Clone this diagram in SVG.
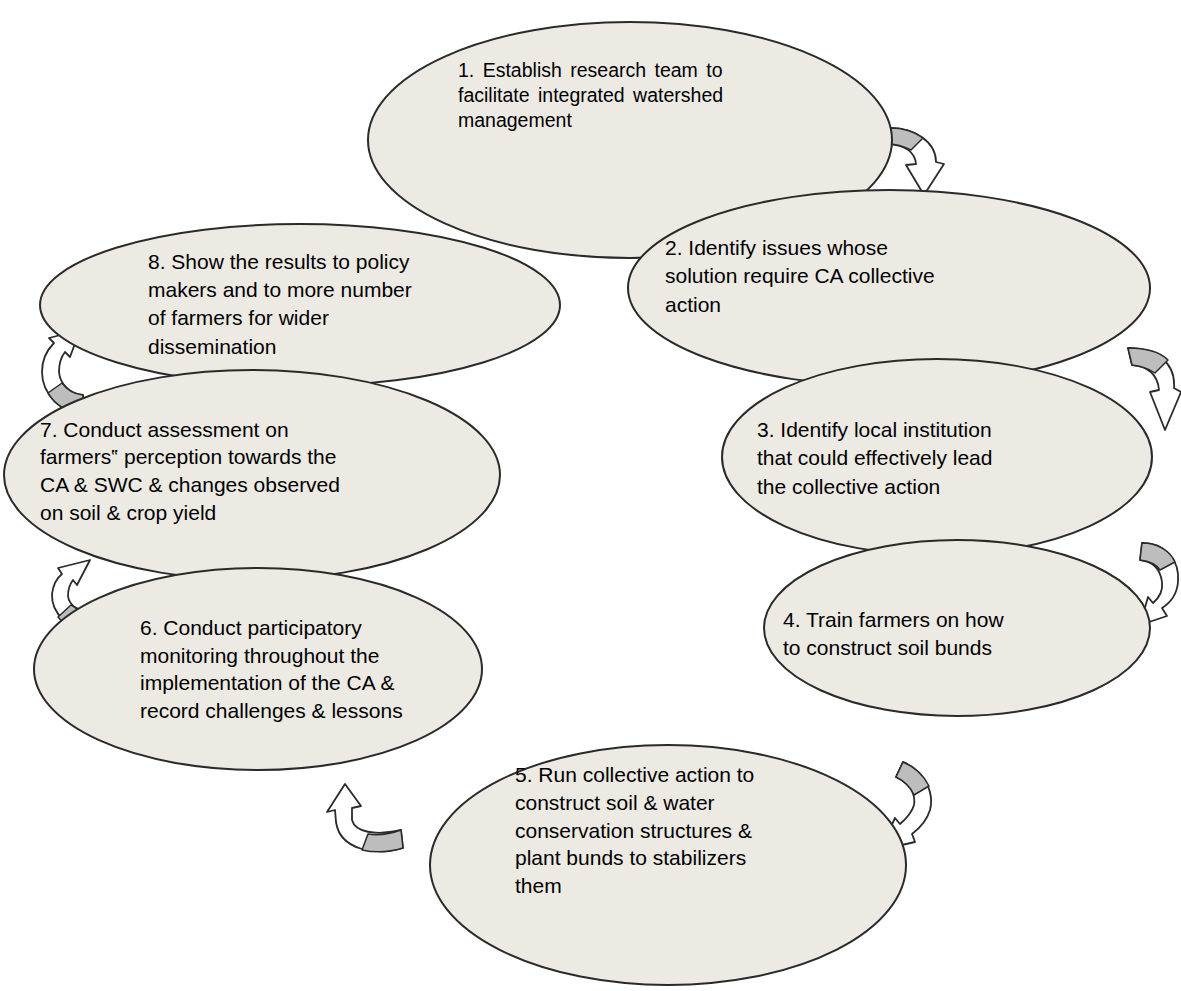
<svg xmlns="http://www.w3.org/2000/svg" width="1181" height="991" viewBox="0 0 1181 991">
<style>
.bg{fill:#ffffff}
.node ellipse{fill:#ECEAE3;stroke:#2a2a2a;stroke-width:2}
.node text{font-family:"Liberation Sans",Arial,sans-serif;font-size:21px;fill:#000}
#n1 text{font-size:19.5px}
.arr{fill:#ffffff;stroke:#2a2a2a;stroke-width:1.8;stroke-linejoin:round}
.arrg{fill:#BDBDBD;stroke:#2a2a2a;stroke-width:1.5;stroke-linejoin:round}
</style>
<rect class="bg" x="0" y="0" width="1181" height="991"/>
<g id="connectors">
<g id="a1"><path class="arr" d="M 890 128 C 915 128, 936 142, 936 162 L 944 164 L 924 195 L 906 165 L 916 164 C 915 152, 905 145, 889 144 Z"/><path class="arrg" d="M 890 128 C 903 128, 915 132, 923 138 L 911 150 C 905 147, 898 144, 889 144 Z"/></g>
<g id="a2"><path class="arr" d="M 1128 348 C 1155 348, 1176 362, 1174 388 L 1181 392 L 1165 430 L 1150 392 L 1159 390 C 1158 375, 1148 366, 1132 365 Z"/><path class="arrg" d="M 1128 348 C 1145 348, 1160 352, 1168 360 L 1155 373 C 1149 369, 1142 366, 1132 365 Z"/></g>
<g id="a3"><path class="arr" d="M 1142 543 C 1165 543, 1180 560, 1178 582 C 1177 594, 1170 603, 1162 608 L 1167 616 L 1140 625 L 1148 597 L 1153 603 C 1160 597, 1163 590, 1162 582 C 1160 568, 1152 561, 1140 560 Z"/><path class="arrg" d="M 1142 543 C 1158 543, 1170 551, 1175 562 L 1160 570 C 1156 564, 1149 561, 1140 560 Z"/></g>
<g id="a4"><path class="arr" d="M 903 762 C 922 770, 935 790, 930 810 C 927 820, 920 828, 912 834 L 915 842 L 880 850 L 895 818 L 900 824 C 907 818, 912 812, 914 805 C 916 792, 908 782, 896 777 Z"/><path class="arrg" d="M 903 762 C 915 767, 924 776, 929 786 L 914 795 C 911 788, 904 781, 896 777 Z"/></g>
<g id="a5"><path class="arr" d="M 403 848 C 375 856, 340 850, 336 822 L 335 810 L 327 812 L 345 784 L 361 806 L 352 808 L 352 820 C 355 832, 375 836, 401 830 Z"/><path class="arrg" d="M 403 848 C 390 852, 375 853, 362 850 L 368 834 C 380 836, 390 834, 401 830 Z"/></g>
<g id="a6"><path class="arr" d="M 92 633 C 70 630, 51 614, 52 594 C 53 585, 57 578, 62 574 L 58 568 L 90 560 L 77 585 L 73 580 C 70 584, 68 590, 68 596 C 69 606, 80 612, 92 612 Z"/><path class="arrg" d="M 92 633 C 78 632, 65 626, 58 617 L 71 605 C 76 609, 84 612, 92 612 Z"/></g>
<g id="a7"><path class="arr" d="M 83 415 C 62 412, 42 395, 42 372 C 42 360, 47 350, 54 343 L 49 338 L 80 330 L 70 357 L 65 352 C 61 357, 59 364, 59 372 C 60 384, 70 394, 83 395 Z"/><path class="arrg" d="M 83 415 C 68 413, 55 405, 48 393 L 62 383 C 67 390, 74 394, 83 395 Z"/></g>
</g>
<g id="n1" class="node"><ellipse cx="630" cy="140" rx="262" ry="118"/>
<text x="458" y="77" word-spacing="3">1. Establish research team to</text>
<text x="458" y="102" word-spacing="3">facilitate integrated watershed</text>
<text x="458" y="127">management</text></g>
<g id="n2" class="node"><ellipse cx="889" cy="288" rx="261" ry="98"/>
<text x="665" y="255">2. Identify issues whose</text>
<text x="665" y="283">solution require CA collective</text>
<text x="665" y="312">action</text></g>
<g id="n3" class="node"><ellipse cx="937" cy="457" rx="215" ry="98"/>
<text x="757" y="437">3. Identify local institution</text>
<text x="757" y="465">that could effectively lead</text>
<text x="757" y="494">the collective action</text></g>
<g id="n4" class="node"><ellipse cx="957" cy="628" rx="193" ry="88"/>
<text x="783" y="627">4. Train farmers on how</text>
<text x="783" y="655">to construct soil bunds</text></g>
<g id="n8" class="node"><ellipse cx="300" cy="305" rx="260" ry="81"/>
<text x="148" y="269">8. Show the results to policy</text>
<text x="148" y="297">makers and to more number</text>
<text x="148" y="325">of farmers for wider</text>
<text x="148" y="354">dissemination</text></g>
<g id="n7" class="node"><ellipse cx="252" cy="475" rx="248" ry="105"/>
<text x="40" y="437">7. Conduct assessment on</text>
<text x="40" y="464">farmers‟ perception towards the</text>
<text x="40" y="492">CA &amp; SWC &amp; changes observed</text>
<text x="40" y="520">on soil &amp; crop yield</text></g>
<g id="n6" class="node"><ellipse cx="258" cy="669" rx="224" ry="101"/>
<text x="140" y="635">6. Conduct participatory</text>
<text x="140" y="663">monitoring throughout the</text>
<text x="140" y="690">implementation of the CA &amp;</text>
<text x="140" y="718">record challenges &amp; lessons</text></g>
<g id="n5" class="node"><ellipse cx="668" cy="865" rx="238" ry="120"/>
<text x="515" y="782">5. Run collective action to</text>
<text x="515" y="810">construct soil &amp; water</text>
<text x="515" y="838">conservation structures &amp;</text>
<text x="515" y="865">plant bunds to stabilizers</text>
<text x="515" y="893">them</text></g>
</svg>
